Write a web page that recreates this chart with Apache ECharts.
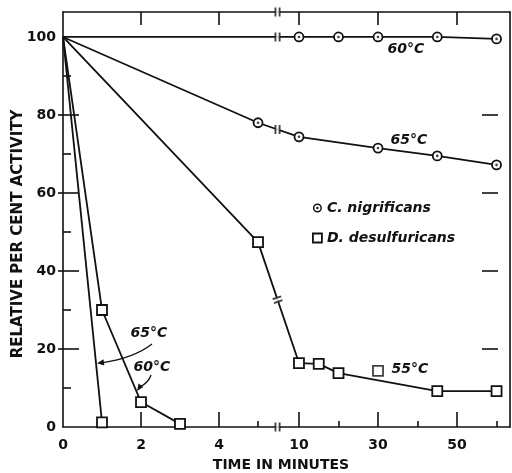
<!DOCTYPE html>
<html><head><meta charset="utf-8">
<script src="https://cdn.jsdelivr.net/npm/echarts@6/dist/echarts.min.js"></script>
<style>html,body{margin:0;padding:0;background:#fff}#c{width:512px;height:473px}</style>
</head><body><div id="c"></div>
<script>
// ---- data (time in minutes, relative per cent activity) ----
const cnig60Time = [0, 10, 20, 30, 45, 60];
const cnig60Act  = [100, 100, 100, 100, 100, 99.5];
const cnig65Time = [0, 5, 10, 30, 45, 60];
const cnig65Act  = [100, 78, 74.4, 71.5, 69.5, 67.2];
const ddes55Time = [0, 5, 10, 15, 20, 45, 60];
const ddes55Act  = [100, 47.4, 16.4, 16.2, 13.8, 9.2, 9.2];
const ddes55ExtraTime = [30];
const ddes55ExtraAct  = [14.4];
const ddes60Time = [0, 1, 2, 3];
const ddes60Act  = [100, 30, 6.4, 0.8];
const ddes65Time = [0, 1];
const ddes65Act  = [100, 1.2];
// ticks
const xMajorTicks = [0, 2, 4, 10, 30, 50];
const xTopTicks = [2, 4, 10, 30, 50];
const xMinorTicks = [5, 20, 40, 60];
const yLabelTicks = [0, 20, 40, 60, 80, 100];
const yMajorTicks = [20, 40, 60, 80];
const yMinorTicks = [10, 30, 50, 70, 90];
const yRightTicks = [20, 40, 60, 80];
const breakTime = 5.5;

// broken time axis: 0-5.5 min at full scale, 10-60 min compressed
const RIGHT_START = 6.05, RIGHT_SCALE = 0.1013;
function axisPos(t) { return t <= breakTime ? t : RIGHT_START + (t - 10) * RIGHT_SCALE; }
const X_MAX = 11.46, Y_MAX = 106.4;

function pts(times, acts) {
  return times.map((t, i) => {
    const d = { value: [axisPos(t), acts[i]] };
    if (t === 0) d.symbol = 'none';
    return d;
  });
}
function atBreak(times, acts) {
  const xb = axisPos(breakTime);
  for (let i = 0; i < times.length - 1; i++) {
    const a = axisPos(times[i]), b = axisPos(times[i + 1]);
    if (a <= xb && b >= xb) return [xb, acts[i] + (acts[i + 1] - acts[i]) * (xb - a) / (b - a)];
  }
  return null;
}

const INK = '#111';
const FONT = 'DejaVu Sans';
const lineStyle = { color: INK, width: 1.8 };
const circleItem = { color: '#fff', borderColor: INK, borderWidth: 1.8 };
const rectItem = { color: '#fff', borderColor: INK, borderWidth: 1.8 };

function lineSeries(name, times, acts, symbol, size) {
  return {
    type: 'line', name, data: pts(times, acts), symbol, symbolSize: size,
    showAllSymbol: true, lineStyle, itemStyle: symbol === 'circle' ? circleItem : rectItem,
    z: 2, silent: true, emphasis: { disabled: true }
  };
}
function dotData(times, acts) {
  return times.filter(t => t !== 0).map(t => [axisPos(t), acts[times.indexOf(t)]]);
}

const breakPts = [
  { value: [axisPos(breakTime), Y_MAX] },
  { value: [axisPos(breakTime), 0] },
  { value: atBreak(cnig60Time, cnig60Act) },
  { value: atBreak(cnig65Time, cnig65Act) },
  { value: atBreak(ddes55Time, ddes55Act), symbolRotate: -71 }
];

const ringPath = 'path://M50,0A50,50 0 1,1 49.99,0Z M50,16A34,34 0 1,0 50.01,16Z M50,37A13,13 0 1,1 49.99,37Z';

const xBase = { type: 'value', min: 0, max: X_MAX, splitLine: { show: false } };
const yBase = { type: 'value', min: 0, max: Y_MAX, splitLine: { show: false } };
const axisLine = { show: true, onZero: false, lineStyle: { color: INK, width: 1.6 } };
const noLine = { show: false, onZero: false };
const tickStyle = { color: INK, width: 1.6 };

const chart = echarts.init(document.getElementById('c'), null, { renderer: 'canvas' });
chart.setOption({
  animation: false,
  backgroundColor: '#fff',
  grid: { left: 63, right: 2, top: 12, bottom: 46, containLabel: false },
  xAxis: [
    Object.assign({}, xBase, {
      position: 'bottom', axisLine,
      axisTick: { show: true, inside: true, length: 15, lineStyle: tickStyle, customValues: xTopTicks.map(axisPos) },
      axisLabel: {
        show: true, margin: 11, color: INK, fontFamily: FONT, fontWeight: 'bold', fontSize: 14,
        customValues: xMajorTicks.map(axisPos),
        formatter: v => {
          let best = 0;
          xMajorTicks.forEach((t, i) => { if (Math.abs(axisPos(t) - v) < Math.abs(axisPos(xMajorTicks[best]) - v)) best = i; });
          return String(xMajorTicks[best]);
        }
      }
    }),
    Object.assign({}, xBase, {
      position: 'bottom', axisLine: noLine,
      axisTick: { show: true, inside: true, length: 6, lineStyle: tickStyle, customValues: xMinorTicks.map(axisPos) },
      axisLabel: { show: false }
    }),
    Object.assign({}, xBase, {
      position: 'top', axisLine,
      axisTick: { show: true, inside: true, length: 13, lineStyle: tickStyle, customValues: xTopTicks.map(axisPos) },
      axisLabel: { show: false }
    })
  ],
  yAxis: [
    Object.assign({}, yBase, {
      position: 'left', axisLine,
      axisTick: { show: true, inside: true, length: 16, lineStyle: tickStyle, customValues: yMajorTicks },
      axisLabel: { show: true, margin: 7, color: INK, fontFamily: FONT, fontWeight: 'bold', fontSize: 14, customValues: yLabelTicks }
    }),
    Object.assign({}, yBase, {
      position: 'left', axisLine: noLine,
      axisTick: { show: true, inside: true, length: 8, lineStyle: tickStyle, customValues: yMinorTicks },
      axisLabel: { show: false }
    }),
    Object.assign({}, yBase, {
      position: 'left', axisLine: noLine,
      axisTick: { show: true, inside: false, length: 5, lineStyle: tickStyle, customValues: yMajorTicks },
      axisLabel: { show: false }
    }),
    Object.assign({}, yBase, {
      position: 'right', axisLine,
      axisTick: { show: false }, axisLabel: { show: false }
    }),
    Object.assign({}, yBase, {
      position: 'right', offset: -12, axisLine: noLine,
      axisTick: { show: true, inside: true, length: 16, lineStyle: tickStyle, customValues: yRightTicks },
      axisLabel: { show: false }
    })
  ],
  legend: {
    show: true, orient: 'vertical', left: 307, top: 196, itemWidth: 9, itemHeight: 9, itemGap: 16,
    selectedMode: false,
    textStyle: { color: INK, fontFamily: FONT, fontWeight: 'bold', fontStyle: 'italic', fontSize: 14 },
    data: [
      { name: 'C. nigrificans', icon: ringPath, itemStyle: { color: INK, borderWidth: 0 } },
      { name: 'D. desulfuricans', icon: 'rect', itemStyle: { color: '#fff', borderColor: INK, borderWidth: 1.8 } }
    ]
  },
  series: [
    lineSeries('C. nigrificans', cnig60Time, cnig60Act, 'circle', 9),
    lineSeries('C. nigrificans', cnig65Time, cnig65Act, 'circle', 9),
    lineSeries('D. desulfuricans', ddes55Time, ddes55Act, 'rect', 10),
    lineSeries('D. desulfuricans', ddes60Time, ddes60Act, 'rect', 10),
    lineSeries('D. desulfuricans', ddes65Time, ddes65Act, 'rect', 10),
    {
      type: 'scatter', name: 'D. desulfuricans', data: ddes55ExtraTime.map((t, i) => [axisPos(t), ddes55ExtraAct[i]]),
      symbol: 'rect', symbolSize: 10, itemStyle: rectItem, z: 3, silent: true
    },
    {
      type: 'scatter', name: 'centre dots',
      data: dotData(cnig60Time, cnig60Act).concat(dotData(cnig65Time, cnig65Act)),
      symbol: 'circle', symbolSize: 2.6, itemStyle: { color: INK }, z: 7, silent: true
    },
    {
      type: 'scatter', name: 'break gap', data: breakPts, clip: false,
      symbol: 'rect', symbolSize: [5, 6], itemStyle: { color: '#fff' }, z: 5, silent: true
    },
    {
      type: 'scatter', name: 'break bars', data: breakPts, clip: false,
      symbol: 'path://M0,0H2V10H0Z M4.5,0H6.5V10H4.5Z', symbolSize: [6, 9], itemStyle: { color: INK }, z: 6, silent: true
    }
  ],
  graphic: [
    { type: 'text', x: 406, y: 49, style: { text: '60°C', font: 'italic bold 14px "DejaVu Sans"', fill: INK, align: 'center', verticalAlign: 'middle' } },
    { type: 'text', x: 409, y: 140, style: { text: '65°C', font: 'italic bold 14px "DejaVu Sans"', fill: INK, align: 'center', verticalAlign: 'middle' } },
    { type: 'text', x: 410, y: 369, style: { text: '55°C', font: 'italic bold 14px "DejaVu Sans"', fill: INK, align: 'center', verticalAlign: 'middle' } },
    { type: 'text', x: 149, y: 333, style: { text: '65°C', font: 'italic bold 14px "DejaVu Sans"', fill: INK, align: 'center', verticalAlign: 'middle' } },
    { type: 'text', x: 152, y: 367, style: { text: '60°C', font: 'italic bold 14px "DejaVu Sans"', fill: INK, align: 'center', verticalAlign: 'middle' } },
    { type: 'bezierCurve', shape: { x1: 152, y1: 344, cpx1: 134, cpy1: 358, x2: 102, y2: 362.8 }, style: { stroke: INK, lineWidth: 1.3, fill: null } },
    { type: 'polygon', shape: { points: [[97, 363.3], [104.3, 365.6], [103.5, 359.3]] }, style: { fill: INK } },
    { type: 'bezierCurve', shape: { x1: 151, y1: 375, cpx1: 149, cpy1: 382, x2: 140, y2: 387 }, style: { stroke: INK, lineWidth: 1.3, fill: null } },
    { type: 'polygon', shape: { points: [[137, 391], [143.4, 387], [138.6, 383.6]] }, style: { fill: INK } },
    { type: 'text', x: 281, y: 465, style: { text: 'TIME IN MINUTES', font: 'bold 14px "DejaVu Sans"', fill: INK, align: 'center', verticalAlign: 'middle' } },
    { type: 'text', x: 18, y: 234, rotation: Math.PI / 2, style: { text: 'RELATIVE PER CENT ACTIVITY', font: 'bold 15px "DejaVu Sans"', fill: INK, align: 'center', verticalAlign: 'middle' } }
  ]
});
</script>
</body></html>
